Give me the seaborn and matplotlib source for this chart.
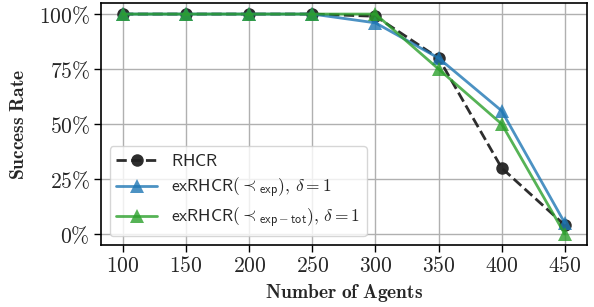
import numpy as np
import pandas as pd
import seaborn as sns
import matplotlib
matplotlib.use("Agg")
import matplotlib.pyplot as plt
from matplotlib.ticker import FuncFormatter, FixedLocator

agents = [100, 150, 200, 250, 300, 350, 400, 450]
rhcr = [1.00, 1.00, 1.00, 1.00, 0.99, 0.80, 0.30, 0.04]
ex_exp = [1.00, 1.00, 1.00, 1.00, 0.96, 0.80, 0.56, 0.05]
ex_tot = [1.00, 1.00, 1.00, 1.00, 1.00, 0.75, 0.50, 0.00]
labels = [r"$\mathsf{RHCR}$",
          r"$\mathsf{exRHCR}({\prec}_{\mathsf{exp}}),\,\delta=1$",
          r"$\mathsf{exRHCR}({\prec}_{\mathsf{exp}-\mathsf{tot}}),\,\delta=1$"]
yticks = [0, 0.25, 0.5, 0.75, 1.0]

sns.set_style("whitegrid")
plt.rcParams["mathtext.fontset"] = "cm"
plt.rcParams["font.family"] = ["DejaVu Sans"]

fig, ax = plt.subplots(figsize=(5.94, 3.07), dpi=100)

sns.lineplot(x=agents, y=rhcr, ax=ax, color="#222222", linestyle="--", marker="o",
             markersize=9, linewidth=2, label=labels[0], markeredgewidth=0, alpha=0.95)
sns.lineplot(x=agents, y=ex_exp, ax=ax, color="#1f77b4", marker="^",
             markersize=10, linewidth=2, label=labels[1], markeredgewidth=0, alpha=0.8)
sns.lineplot(x=agents, y=ex_tot, ax=ax, color="#2ca02c", marker="^",
             markersize=10, linewidth=2, label=labels[2], markeredgewidth=0, alpha=0.8)

ax.set_xlim(82.5, 467.5)
ax.set_ylim(-0.05, 1.05)
ax.xaxis.set_major_locator(FixedLocator(agents))
ax.yaxis.set_major_locator(FixedLocator(yticks))
ax.xaxis.set_major_formatter(FuncFormatter(lambda v, p: f"${v:g}$"))
ax.yaxis.set_major_formatter(FuncFormatter(lambda v, p: f"${v*100:g}\\%$"))
ax.tick_params(axis="both", labelsize=15.5, length=5, width=1, color="black",
               direction="out", bottom=True, left=True, pad=3)
for s in ax.spines.values():
    s.set_color("black")
    s.set_linewidth(1.2)
ax.grid(True, color="#b0b0b0", linewidth=1)

ax.set_xlabel(r"$\mathbf{Number\ of\ Agents}$", fontsize=14, labelpad=4)
ax.set_ylabel(r"$\mathbf{Success\ Rate}$", fontsize=14, labelpad=8)

leg = ax.legend(loc="lower left", fontsize=12.5, frameon=True, framealpha=0.8,
                borderaxespad=0.5, handlelength=2.4, labelspacing=0.3,
                borderpad=0.35, handletextpad=0.8)
leg.get_frame().set_edgecolor("#cccccc")

fig.subplots_adjust(left=0.17, right=0.988, top=0.99, bottom=0.202)
fig.savefig("out.png", dpi=100)
